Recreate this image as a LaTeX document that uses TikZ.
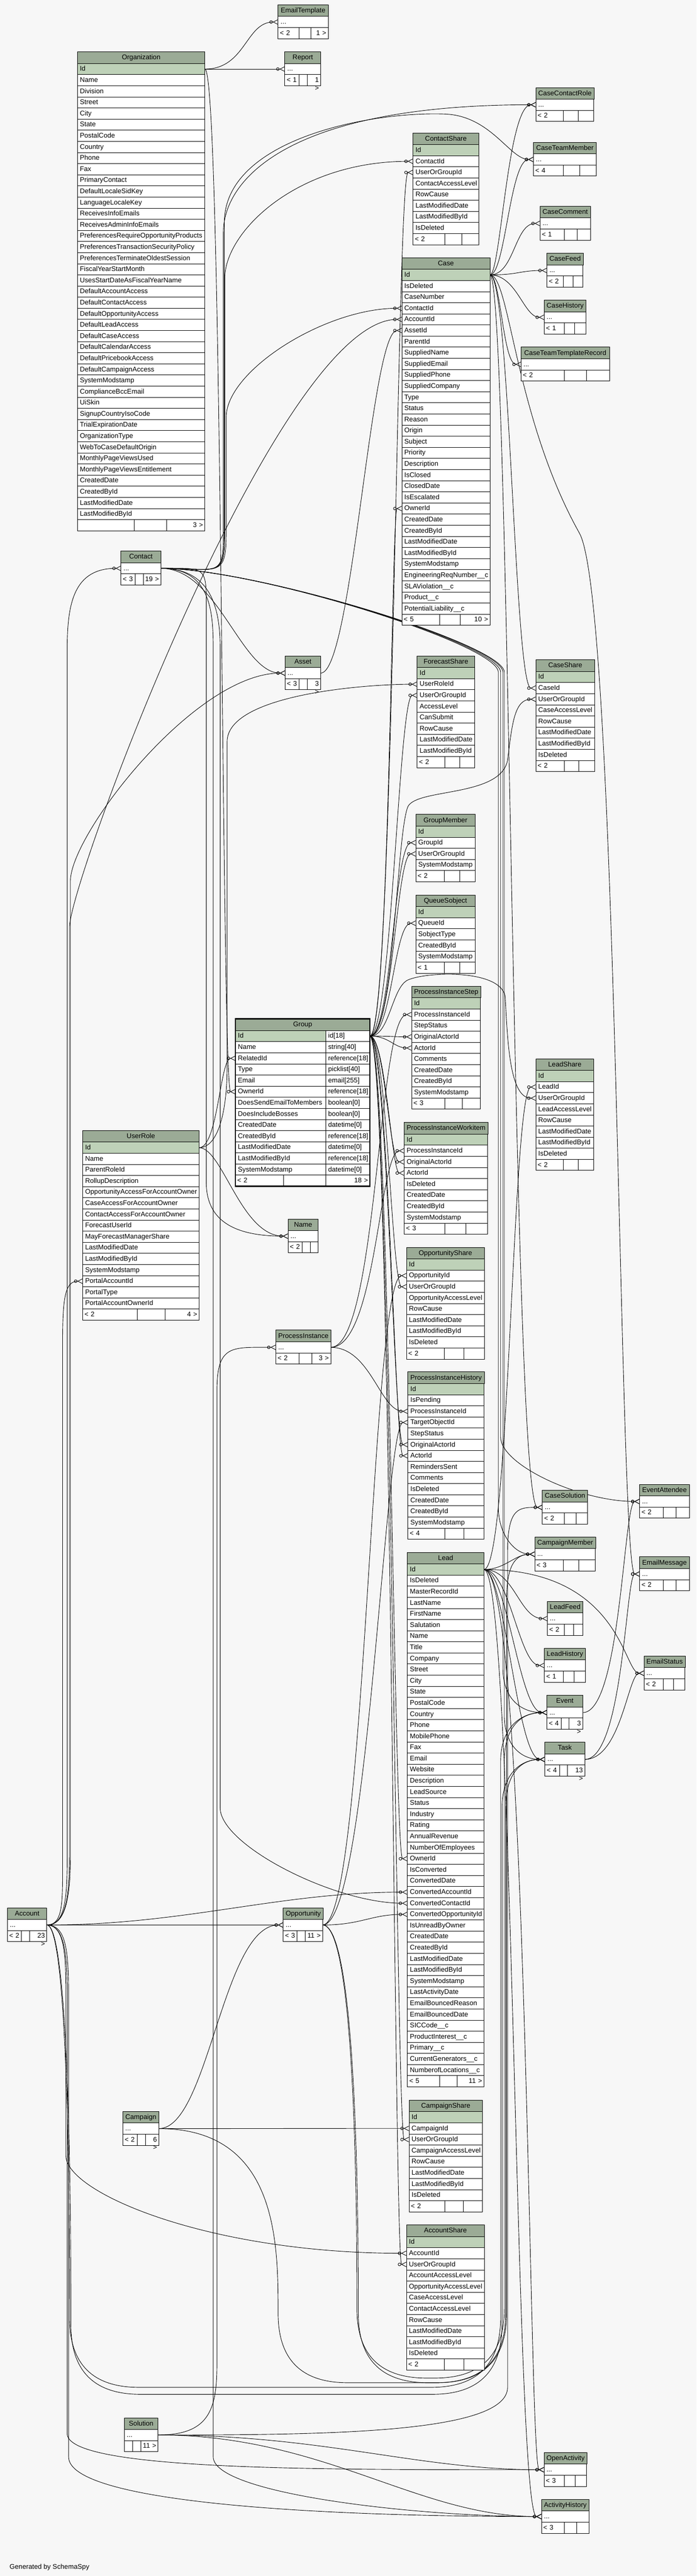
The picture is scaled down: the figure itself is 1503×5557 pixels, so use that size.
\documentclass[tikz,border=0pt]{standalone}
\usepackage{fontspec}
\setmainfont{Liberation Sans}
\usetikzlibrary{arrows.meta}

\definecolor{pagebg}{HTML}{F7F7F7}
\definecolor{headfill}{HTML}{9BAB96}
\definecolor{keyfill}{HTML}{BED1B8}

\pgfdeclarelayer{bg}
\pgfdeclarelayer{edges}
\pgfsetlayers{bg,edges,main}

\newcommand\dbfont{\fontsize{11bp}{13bp}\selectfont}

\tikzset{
    dbcell/.style = {draw, line width = 0.75bp, fill = white, anchor = north west,
        inner xsep = 4bp, inner ysep = 0pt, outer sep = 0pt, minimum height = 18bp,
        text height = 9bp, text depth = 2.5bp, font = \dbfont},
    dbhead/.style = {dbcell, fill = headfill, minimum height = 18.75bp},
    fk/.style = {line width = 0.75bp,
        -{Circle[open, length = 5.25bp, width = 5.25bp] Straight Barb[reversed, length = 7.5bp, width = 7.5bp]}}
}

% table head: keeps left, right and the top of the next row
\newcommand\dbhead[4]{%
    \pgfmathsetmacro\tw{0.75*(#3-#2)}%
    \node[dbhead, minimum width = \tw bp] (#1) at (#2,#4) {#1};%
    \xdef\tL{#2}\xdef\tR{#3}%
    \pgfmathsetmacro\ty{#4+25}\xdef\tY{\ty}%
}
% column rows, the first one is the key
\newcommand\dbrows[2]{%
    \pgfmathsetmacro\tw{0.75*(\tR-\tL)}\pgfmathsetmacro\ttw{\tw-8}%
    \foreach \col [count = \i from 0] in {#2}{%
        \pgfmathsetmacro\ry{\tY+24*\i}%
        \ifnum\i=0 \def\rowfill{keyfill}\else\def\rowfill{white}\fi
        \node[dbcell, fill = \rowfill, minimum width = \tw bp, text width = \ttw bp, align = left]
            (#1-\col) at (\tL,\ry) {\col};%
        \xdef\tN{\i}%
    }%
    \pgfmathsetmacro\ty{\tY+24*(\tN+1)}\xdef\tY{\ty}%
}
% column rows with their types
\newcommand\dbtyped[3]{%
    \pgfmathsetmacro\twa{0.75*(#2-\tL)}\pgfmathsetmacro\ttwa{\twa-8}%
    \pgfmathsetmacro\twb{0.75*(\tR-#2)}\pgfmathsetmacro\ttwb{\twb-8}%
    \foreach \col/\typ [count = \i from 0] in {#3}{%
        \pgfmathsetmacro\ry{\tY+24*\i}%
        \ifnum\i=0 \def\rowfill{keyfill}\else\def\rowfill{white}\fi
        \node[dbcell, fill = \rowfill, minimum width = \twa bp, text width = \ttwa bp, align = left]
            (#1-\col) at (\tL,\ry) {\col};%
        \node[dbcell, minimum width = \twb bp, text width = \ttwb bp, align = left]
            (#1-\col-type) at (#2,\ry) {\typ};%
        \xdef\tN{\i}%
    }%
    \pgfmathsetmacro\ty{\tY+24*(\tN+1)}\xdef\tY{\ty}%
}
% collapsed table
\newcommand\dbstub[1]{%
    \pgfmathsetmacro\tw{0.75*(\tR-\tL)}\pgfmathsetmacro\ttw{\tw-8}%
    \node[dbcell, minimum width = \tw bp, text width = \ttw bp, align = left] (#1-r) at (\tL,\tY) {...};%
    \pgfmathsetmacro\ty{\tY+24}\xdef\tY{\ty}%
}
% footer: parents | blank | children
\newcommand\dbfoot[5]{%
    \pgfmathsetmacro\wa{0.75*(#2-\tL)}\pgfmathsetmacro\twa{\wa-6}%
    \pgfmathsetmacro\wb{0.75*(#3-#2)}%
    \pgfmathsetmacro\wc{0.75*(\tR-#3)}\pgfmathsetmacro\twc{\wc-6}%
    \node[dbcell, inner xsep = 3bp, minimum width = \wa bp, text width = \twa bp, align = left] (#1-f1) at (\tL,\tY) {#4};%
    \node[dbcell, inner xsep = 0pt, minimum width = \wb bp] (#1-f2) at (#2,\tY) {};%
    \node[dbcell, inner xsep = 3bp, minimum width = \wc bp, text width = \twc bp, align = right] (#1-f3) at (#3,\tY) {#5};%
}
% foreign keys: parent row -> child row
\newcommand\fk[4]{\draw[fk] (#1.east) .. controls (#3,0 |- #1.east) and (#4,0 |- #2.west) .. (#2.west);}
\newcommand\fkrun[8]{\draw[fk] (#1.east) .. controls (#3,0 |- #1.east) and (#4,{#5-(#7)}) .. (#4,#5)
    -- (#4,#6) .. controls (#4,{#6+(#7)}) and (#8,0 |- #2.west) .. (#2.west);}
\newcommand\fkloop[7]{\draw[fk] (#1.east) .. controls (#3,0 |- #1.east) and (#3,{#4-300}) .. (#3,{#4-150})
    .. controls (#3,{#4-50}) and ({#3+50},#4) .. ({#3+150},#4)
    -- ({#5-150},#4) .. controls ({#5-50},#4) and (#5,{#4-50}) .. (#5,{#4-150})
    -- (#5,#6) .. controls (#5,{#6-70}) and (#7,0 |- #2.west) .. (#2.west);}

\begin{document}
\catcode`\_=12
\begin{tikzpicture}[x = 0.75bp, y = -0.75bp]
    \useasboundingbox (0,0) rectangle (1503,5557);
    \begin{pgfonlayer}{bg}
        \fill[pagebg] (0,0) rectangle (1503,5557);
    \end{pgfonlayer}

    \dbhead{EmailTemplate}{600}{708}{10.5}\dbstub{EmailTemplate}\dbfoot{EmailTemplate}{645}{671}{< 2}{1 >}
    \dbhead{Report}{614.5}{692}{112}\dbstub{Report}\dbfoot{Report}{645}{663}{< 1}{1 >}
    \dbhead{Organization}{167}{442}{112}
    \dbrows{Organization}{Id, Name, Division, Street, City, State, PostalCode, Country, Phone, Fax,
        PrimaryContact, DefaultLocaleSidKey, LanguageLocaleKey, ReceivesInfoEmails, ReceivesAdminInfoEmails,
        PreferencesRequireOpportunityProducts, PreferencesTransactionSecurityPolicy,
        PreferencesTerminateOldestSession, FiscalYearStartMonth, UsesStartDateAsFiscalYearName,
        DefaultAccountAccess, DefaultContactAccess, DefaultOpportunityAccess, DefaultLeadAccess,
        DefaultCaseAccess, DefaultCalendarAccess, DefaultPricebookAccess, DefaultCampaignAccess,
        SystemModstamp, ComplianceBccEmail, UiSkin, SignupCountryIsoCode, TrialExpirationDate,
        OrganizationType, WebToCaseDefaultOrigin, MonthlyPageViewsUsed, MonthlyPageViewsEntitlement,
        CreatedDate, CreatedById, LastModifiedDate, LastModifiedById}
    \dbfoot{Organization}{289}{359}{}{3 >}

    \dbhead{ContactShare}{891}{1033}{287}
    \dbrows{ContactShare}{Id, ContactId, UserOrGroupId, ContactAccessLevel, RowCause, LastModifiedDate,
        LastModifiedById, IsDeleted}
    \dbfoot{ContactShare}{959.5}{996}{< 2}{}
    \dbhead{CaseContactRole}{1156}{1281}{189}\dbstub{CaseContactRole}\dbfoot{CaseContactRole}{1215.7}{1248}{< 2}{}
    \dbhead{CaseTeamMember}{1151}{1286.5}{307}\dbstub{CaseTeamMember}\dbfoot{CaseTeamMember}{1215.7}{1250.7}{< 4}{}
    \dbhead{CaseComment}{1165}{1273.6}{445}\dbstub{CaseComment}\dbfoot{CaseComment}{1217.3}{1245}{< 1}{}
    \dbhead{CaseFeed}{1180}{1257}{546.5}\dbstub{CaseFeed}\dbfoot{CaseFeed}{1215.7}{1236}{< 2}{}
    \dbhead{CaseHistory}{1174}{1264}{647.5}\dbstub{CaseHistory}\dbfoot{CaseHistory}{1217}{1240}{< 1}{}
    \dbhead{CaseTeamTemplateRecord}{1124}{1315}{749}\dbstub{CaseTeamTemplateRecord}
    \dbfoot{CaseTeamTemplateRecord}{1217.3}{1265.2}{< 2}{}
    \dbhead{Case}{867}{1057}{556}
    \dbrows{Case}{Id, IsDeleted, CaseNumber, ContactId, AccountId, AssetId, ParentId, SuppliedName,
        SuppliedEmail, SuppliedPhone, SuppliedCompany, Type, Status, Reason, Origin, Subject, Priority,
        Description, IsClosed, ClosedDate, IsEscalated, OwnerId, CreatedDate, CreatedById,
        LastModifiedDate, LastModifiedById, SystemModstamp, EngineeringReqNumber__c, SLAViolation__c,
        Product__c, PotentialLiability__c}
    \dbfoot{Case}{949}{993}{< 5}{10 >}

    \dbhead{Contact}{261}{347}{1189}\dbstub{Contact}\dbfoot{Contact}{292}{309}{< 3}{19 >}
    \dbhead{Asset}{615}{692}{1415}\dbstub{Asset}\dbfoot{Asset}{645}{662.6}{< 3}{3 >}
    \dbhead{ForecastShare}{900}{1024}{1415}
    \dbrows{ForecastShare}{Id, UserRoleId, UserOrGroupId, AccessLevel, CanSubmit, RowCause,
        LastModifiedDate, LastModifiedById}
    \dbfoot{ForecastShare}{960}{992}{< 2}{}
    \dbhead{CaseShare}{1156}{1283}{1423.4}
    \dbrows{CaseShare}{Id, CaseId, UserOrGroupId, CaseAccessLevel, RowCause, LastModifiedDate,
        LastModifiedById, IsDeleted}
    \dbfoot{CaseShare}{1217}{1249}{< 2}{}
    \dbhead{GroupMember}{897}{1025}{1757}
    \dbrows{GroupMember}{Id, GroupId, UserOrGroupId, SystemModstamp}
    \dbfoot{GroupMember}{958}{992}{< 2}{}
    \dbhead{QueueSobject}{897}{1025}{1930.6}
    \dbrows{QueueSobject}{Id, QueueId, SobjectType, CreatedById, SystemModstamp}
    \dbfoot{QueueSobject}{958}{992}{< 1}{}
    \dbhead{ProcessInstanceStep}{888}{1036}{2127.7}
    \dbrows{ProcessInstanceStep}{Id, ProcessInstanceId, StepStatus, OriginalActorId, ActorId, Comments,
        CreatedDate, CreatedById, SystemModstamp}
    \dbfoot{ProcessInstanceStep}{960}{997}{< 3}{}

    \dbhead{Group}{508}{798}{2198}
    \dbtyped{Group}{702.7}{Id/id[18], Name/string[40], RelatedId/reference[18], Type/picklist[40],
        Email/email[255], OwnerId/reference[18], DoesSendEmailToMembers/boolean[0],
        DoesIncludeBosses/boolean[0], CreatedDate/datetime[0], CreatedById/reference[18],
        LastModifiedDate/datetime[0], LastModifiedById/reference[18], SystemModstamp/datetime[0]}
    \dbfoot{Group}{611.7}{702.7}{< 2}{18 >}
    \draw[line width = 2.25bp] (Group.north west) rectangle (Group-f3.south east);

    \dbhead{UserRole}{178.4}{429.5}{2438.8}
    \dbrows{UserRole}{Id, Name, ParentRoleId, RollupDescription, OpportunityAccessForAccountOwner,
        CaseAccessForAccountOwner, ContactAccessForAccountOwner, ForecastUserId, MayForecastManagerShare,
        LastModifiedDate, LastModifiedById, SystemModstamp, PortalAccountId, PortalType, PortalAccountOwnerId}
    \dbfoot{UserRole}{296}{356}{< 2}{4 >}
    \dbhead{LeadShare}{1156}{1281}{2284}
    \dbrows{LeadShare}{Id, LeadId, UserOrGroupId, LeadAccessLevel, RowCause, LastModifiedDate,
        LastModifiedById, IsDeleted}
    \dbfoot{LeadShare}{1215.7}{1248}{< 2}{}
    \dbhead{ProcessInstanceWorkitem}{872}{1052}{2421.5}
    \dbrows{ProcessInstanceWorkitem}{Id, ProcessInstanceId, OriginalActorId, ActorId, IsDeleted,
        CreatedDate, CreatedById, SystemModstamp}
    \dbfoot{ProcessInstanceWorkitem}{960}{1005}{< 3}{}
    \dbhead{Name}{621.4}{686.4}{2629.6}\dbstub{Name}\dbfoot{Name}{652}{669.4}{< 2}{}
    \dbhead{OpportunityShare}{877}{1045}{2690.9}
    \dbrows{OpportunityShare}{Id, OpportunityId, UserOrGroupId, OpportunityAccessLevel, RowCause,
        LastModifiedDate, LastModifiedById, IsDeleted}
    \dbfoot{OpportunityShare}{958}{1001}{< 2}{}
    \dbhead{ProcessInstance}{595}{713.5}{2869.5}\dbstub{ProcessInstance}\dbfoot{ProcessInstance}{645}{673}{< 2}{3 >}
    \dbhead{ProcessInstanceHistory}{880}{1044}{2959.5}
    \dbrows{ProcessInstanceHistory}{Id, IsPending, ProcessInstanceId, TargetObjectId, StepStatus,
        OriginalActorId, ActorId, RemindersSent, Comments, IsDeleted, CreatedDate, CreatedById, SystemModstamp}
    \dbfoot{ProcessInstanceHistory}{960}{1001}{< 4}{}

    \dbhead{EventAttendee}{1380}{1487}{3202}\dbstub{EventAttendee}\dbfoot{EventAttendee}{1430.6}{1459}{< 2}{}
    \dbhead{CaseSolution}{1170}{1268}{3214.7}\dbstub{CaseSolution}\dbfoot{CaseSolution}{1217}{1243}{< 2}{}
    \dbhead{CampaignMember}{1153.6}{1284}{3315.7}\dbstub{CampaignMember}\dbfoot{CampaignMember}{1215.7}{1249}{< 3}{}
    \dbhead{Lead}{879}{1044}{3348.7}
    \dbrows{Lead}{Id, IsDeleted, MasterRecordId, LastName, FirstName, Salutation, Name, Title, Company,
        Street, City, State, PostalCode, Country, Phone, MobilePhone, Fax, Email, Website, Description,
        LeadSource, Status, Industry, Rating, AnnualRevenue, NumberOfEmployees, OwnerId, IsConverted,
        ConvertedDate, ConvertedAccountId, ConvertedContactId, ConvertedOpportunityId, IsUnreadByOwner,
        CreatedDate, CreatedById, LastModifiedDate, LastModifiedById, SystemModstamp, LastActivityDate,
        EmailBouncedReason, EmailBouncedDate, SICCode__c, ProductInterest__c, Primary__c,
        CurrentGenerators__c, NumberofLocations__c}
    \dbfoot{Lead}{949}{986.6}{< 5}{11 >}
    \dbhead{EmailMessage}{1380}{1487}{3358.5}\dbstub{EmailMessage}\dbfoot{EmailMessage}{1430.6}{1459}{< 2}{}
    \dbhead{LeadFeed}{1181}{1257.3}{3454.6}\dbstub{LeadFeed}\dbfoot{LeadFeed}{1217}{1237}{< 2}{}
    \dbhead{LeadHistory}{1174.4}{1262.7}{3555.7}\dbstub{LeadHistory}\dbfoot{LeadHistory}{1215.7}{1239}{< 1}{}
    \dbhead{EmailStatus}{1389.4}{1477.2}{3572.5}\dbstub{EmailStatus}\dbfoot{EmailStatus}{1430.6}{1453.5}{< 2}{}
    \dbhead{Event}{1180}{1257.3}{3657.4}\dbstub{Event}\dbfoot{Event}{1210.7}{1227.8}{< 4}{3 >}
    \dbhead{Task}{1175.7}{1261.5}{3758.4}\dbstub{Task}\dbfoot{Task}{1207}{1224}{< 4}{13 >}

    \dbhead{Account}{16}{101}{4115.6}\dbstub{Account}\dbfoot{Account}{46.5}{64}{< 2}{23 >}
    \dbhead{Opportunity}{611}{696}{4115.6}\dbstub{Opportunity}\dbfoot{Opportunity}{641}{658.7}{< 3}{11 >}
    \dbhead{Campaign}{265}{342.7}{4554.8}\dbstub{Campaign}\dbfoot{Campaign}{295.7}{313.6}{< 2}{6 >}
    \dbhead{CampaignShare}{882.5}{1041}{4530.4}
    \dbrows{CampaignShare}{Id, CampaignId, UserOrGroupId, CampaignAccessLevel, RowCause, LastModifiedDate,
        LastModifiedById, IsDeleted}
    \dbfoot{CampaignShare}{960}{1000}{< 2}{}
    \dbhead{AccountShare}{877}{1045}{4799.8}
    \dbrows{AccountShare}{Id, AccountId, UserOrGroupId, AccountAccessLevel, OpportunityAccessLevel,
        CaseAccessLevel, ContactAccessLevel, RowCause, LastModifiedDate, LastModifiedById, IsDeleted}
    \dbfoot{AccountShare}{958}{1001}{< 2}{}
    \dbhead{Solution}{268}{341}{5215.7}\dbstub{Solution}\dbfoot{Solution}{286.5}{304}{}{11 >}
    \dbhead{OpenActivity}{1173.6}{1265.2}{5290.7}\dbstub{OpenActivity}\dbfoot{OpenActivity}{1217}{1241}{< 3}{}
    \dbhead{ActivityHistory}{1168.2}{1270.7}{5391.7}\dbstub{ActivityHistory}\dbfoot{ActivityHistory}{1217.3}{1244}{< 3}{}

    \node[font = \dbfont, anchor = base west] (credit) at (16,5541.7) {Generated by SchemaSpy};

    \begin{pgfonlayer}{edges}
        % Organization
        \fk{Organization-Id}{EmailTemplate-r}{530}{530}
        \fk{Organization-Id}{Report-r}{520}{560}
        \fk{Organization-Id}{Group-OwnerId}{480}{478}
        % Contact
        \fkrun{Contact-r}{ContactShare-ContactId}{470}{485}{1150}{600}{-100}{640}
        \fkrun{Contact-r}{Case-ContactId}{470}{488}{1150}{900}{-100}{700}
        \fkrun{Contact-r}{CaseContactRole-r}{470}{482}{1150}{500}{-100}{600}
        \draw[fk] (Contact-r.east) .. controls (470,1226) and (484,1250) .. (484,1150) -- (484,480)
            .. controls (484,300) and (800,240) .. (960,246)
            .. controls (1060,250) and (1100,344) .. (CaseTeamMember-r.west);
        \fk{Contact-r}{Asset-r}{470}{520}
        \fkrun{Contact-r}{Name-r}{440}{445}{1300}{2550}{80}{500}
        \fkrun{Contact-r}{Lead-ConvertedContactId}{460}{475}{1400}{3900}{80}{720}
        \fkrun{Contact-r}{CampaignMember-r}{550}{1075}{1450}{3250}{60}{1110}
        \fkrun{Contact-r}{EventAttendee-r}{550}{1080}{1450}{3100}{60}{1250}
        \fkrun{Contact-r}{Event-r}{550}{1085}{1450}{3600}{60}{1120}
        \fkrun{Contact-r}{Task-r}{550}{1088}{1450}{3700}{60}{1120}
        \fkrun{Contact-r}{ActivityHistory-r}{455}{460}{1400}{5300}{80}{900}
        % Account
        \fkrun{Account-r}{Contact-r}{140}{145}{4000}{1400}{-100}{160}
        \fkrun{Account-r}{UserRole-PortalAccountId}{138}{135}{4000}{2900}{-100}{140}
        \fkrun{Account-r}{Case-AccountId}{140}{150}{4000}{2000}{-100}{600}
        \fkrun{Account-r}{Asset-r}{140}{152}{4000}{1900}{-100}{420}
        \fk{Account-r}{Opportunity-r}{300}{400}
        \fk{Account-r}{Lead-ConvertedAccountId}{400}{600}
        \fkrun{Account-r}{AccountShare-AccountId}{140}{142}{4300}{4650}{80}{450}
        \fkrun{Account-r}{OpenActivity-r}{140}{145}{4300}{5250}{80}{700}
        \fkrun{Account-r}{ActivityHistory-r}{140}{148}{4300}{5300}{100}{700}
        \fkloop{Account-r}{Event-r}{150}{5150}{1080}{3800}{1120}
        \fkloop{Account-r}{Task-r}{153}{5165}{1083}{3900}{1120}
        % Case
        \fk{Case-Id}{CaseContactRole-r}{1080}{1095}
        \fk{Case-Id}{CaseTeamMember-r}{1090}{1100}
        \fk{Case-Id}{CaseComment-r}{1110}{1110}
        \fk{Case-Id}{CaseFeed-r}{1120}{1120}
        \fk{Case-Id}{CaseHistory-r}{1115}{1130}
        \fk{Case-Id}{CaseTeamTemplateRecord-r}{1080}{1085}
        \fk{Case-Id}{CaseShare-CaseId}{1100}{1110}
        \fk{Case-Id}{CaseSolution-r}{1100}{1105}
        \draw[fk] (Case-Id.east) .. controls (1100,593.5) and (1110,900) .. (1250,1150)
            .. controls (1334,1300) and (1335,3395.5) .. (EmailMessage-r.west);
        \fk{Asset-r}{Case-AssetId}{760}{800}
        % Group
        \fk{Group-Id-type}{ContactShare-UserOrGroupId}{850}{855}
        \fk{Group-Id-type}{Case-OwnerId}{840}{845}
        \fk{Group-Id-type}{ForecastShare-UserOrGroupId}{845}{860}
        \draw[fk] (Group-Id-type.east) .. controls (850,2237) and (855,1800) .. (880,1740)
            .. controls (900,1700) and (1080,1720) .. (1095,1640)
            .. controls (1105,1560) and (1110,1508.4) .. (CaseShare-UserOrGroupId.west);
        \fk{Group-Id-type}{GroupMember-GroupId}{845}{850}
        \fk{Group-Id-type}{GroupMember-UserOrGroupId}{848}{855}
        \fk{Group-Id-type}{QueueSobject-QueueId}{845}{850}
        \fk{Group-Id-type}{ProcessInstanceStep-OriginalActorId}{840}{850}
        \fk{Group-Id-type}{ProcessInstanceStep-ActorId}{840}{850}
        \draw[fk] (Group-Id-type.east) .. controls (840,2237) and (845,2130) .. (880,2114)
            .. controls (920,2096) and (1080,2090) .. (1090,2150)
            .. controls (1095,2250) and (1100,2369) .. (LeadShare-UserOrGroupId.west);
        \fk{Group-Id-type}{ProcessInstanceWorkitem-OriginalActorId}{830}{840}
        \fk{Group-Id-type}{ProcessInstanceWorkitem-ActorId}{832}{845}
        \fk{Group-Id-type}{OpportunityShare-UserOrGroupId}{835}{845}
        \fk{Group-Id-type}{ProcessInstanceHistory-OriginalActorId}{835}{850}
        \fk{Group-Id-type}{ProcessInstanceHistory-ActorId}{838}{852}
        \fk{Group-Id-type}{Lead-OwnerId}{840}{850}
        \fk{Group-Id-type}{CampaignShare-UserOrGroupId}{842}{855}
        \fk{Group-Id-type}{AccountShare-UserOrGroupId}{844}{850}
        % UserRole and ProcessInstance
        \fk{UserRole-Id}{Group-RelatedId}{470}{475}
        \fkrun{UserRole-Id}{ForecastShare-UserRoleId}{470}{490}{2300}{1600}{-100}{780}
        \fk{UserRole-Id}{Name-r}{480}{520}
        \fk{ProcessInstance-r}{ProcessInstanceStep-ProcessInstanceId}{815}{815}
        \fk{ProcessInstance-r}{ProcessInstanceWorkitem-ProcessInstanceId}{812}{818}
        \fk{ProcessInstance-r}{ProcessInstanceHistory-ProcessInstanceId}{800}{820}
        % Opportunity
        \fk{Opportunity-r}{OpportunityShare-OpportunityId}{790}{800}
        \fk{Opportunity-r}{Lead-ConvertedOpportunityId}{780}{800}
        \fk{Opportunity-r}{ProcessInstanceHistory-TargetObjectId}{795}{830}
        \fkloop{Opportunity-r}{Event-r}{770}{5130}{1088}{3800}{1120}
        \fkloop{Opportunity-r}{Task-r}{773}{5140}{1091}{3900}{1120}
        % Lead
        \fk{Lead-Id}{LeadShare-LeadId}{1100}{1105}
        \fk{Lead-Id}{CampaignMember-r}{1090}{1110}
        \fk{Lead-Id}{LeadFeed-r}{1110}{1120}
        \fk{Lead-Id}{LeadHistory-r}{1100}{1120}
        \fk{Lead-Id}{Event-r}{1095}{1120}
        \fk{Lead-Id}{Task-r}{1090}{1115}
        \fk{Lead-Id}{EmailStatus-r}{1340}{1345}
        \fk{Lead-Id}{OpenActivity-r}{1140}{1140}
        \fk{Lead-Id}{ActivityHistory-r}{1110}{1110}
        % Campaign and Solution
        \fk{Campaign-r}{Opportunity-r}{450}{480}
        \fk{Campaign-r}{CampaignShare-CampaignId}{600}{700}
        \fkloop{Campaign-r}{CampaignMember-r}{600}{5140}{1093}{3450}{1110}
        \fkrun{Solution-r}{ProcessInstance-r}{450}{468}{5100}{3000}{-100}{500}
        \fkrun{Solution-r}{CaseSolution-r}{700}{1095}{5150}{3350}{-100}{1120}
        \fk{Solution-r}{OpenActivity-r}{700}{900}
        \fk{Solution-r}{ActivityHistory-r}{700}{900}
        % Event and Task
        \fk{Event-r}{EventAttendee-r}{1340}{1345}
        \fk{Task-r}{EmailMessage-r}{1345}{1350}
        \fk{Task-r}{EmailStatus-r}{1340}{1355}
    \end{pgfonlayer}
\end{tikzpicture}
\end{document}
